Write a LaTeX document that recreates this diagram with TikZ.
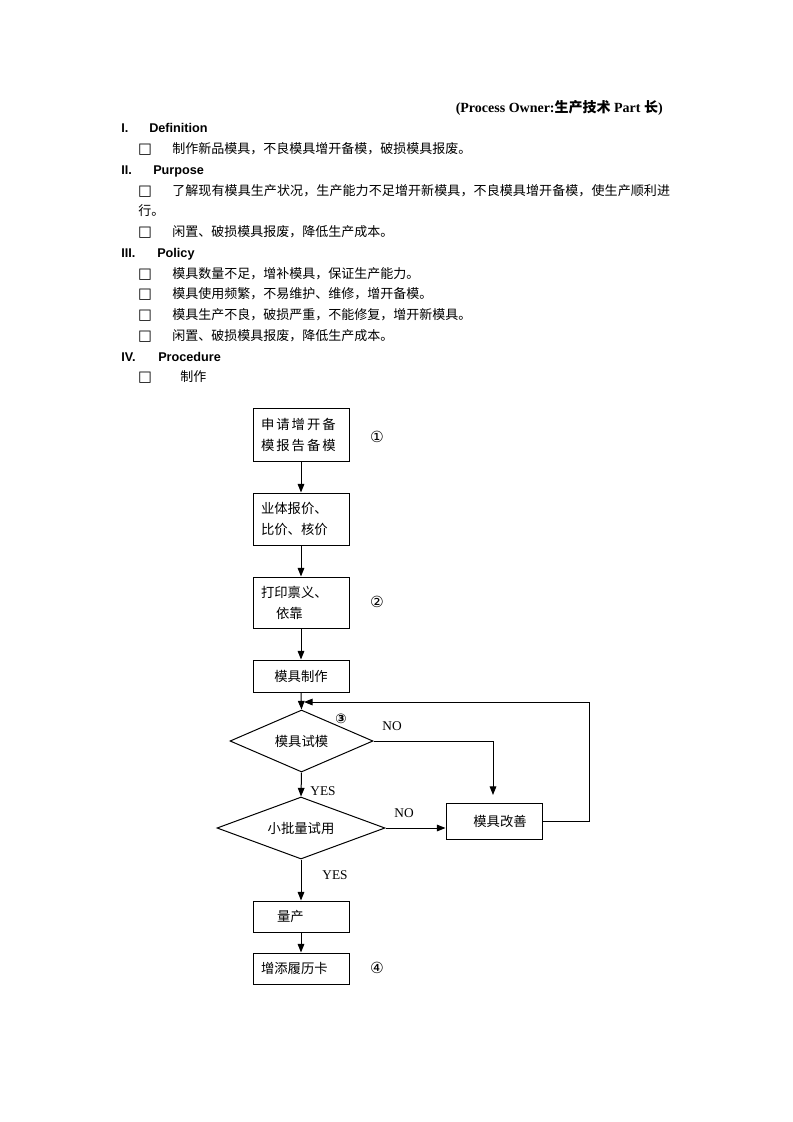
\documentclass[tikz,border=0pt]{standalone}
\usepackage{fontspec}
\setmainfont{Liberation Serif}
\newfontfamily\cjk{Noto Sans CJK SC}
\newfontfamily\cjkls{Noto Sans CJK SC}[LetterSpace=15]
\newfontfamily\cjkj{Noto Sans CJK SC}[LetterSpace=0.8]
\newfontfamily\arialf{Liberation Sans}
\newfontfamily\dejavu{DejaVu Sans}
\usetikzlibrary{shapes.geometric,arrows.meta}
\tikzset{
  box/.style={draw, line width=0.75pt, rectangle, minimum width=72pt, inner xsep=6pt, inner ysep=0pt,
    text width=60pt, align=left, font=\cjk\fontsize{10}{15.75}\selectfont},
  cbox/.style={box, align=center},
  dia/.style={draw, line width=0.75pt, diamond, aspect=2.5, inner sep=0pt, minimum height=46.5pt,
    font=\cjk\fontsize{10}{12}\selectfont},
  arr/.style={-{Triangle[length=6.5pt,width=5pt]}, line width=0.75pt},
  body/.style={anchor=west, inner sep=0pt, font=\cjk\fontsize{9.75}{12}\selectfont},
  bul/.style={anchor=center, inner sep=0pt, font=\dejavu\bfseries\fontsize{11}{12}\selectfont},
  head/.style={anchor=base west, inner sep=0pt, font=\arialf\bfseries\fontsize{9.5}{11}\selectfont},
  yn/.style={anchor=center, inner sep=0pt, font=\fontsize{10}{12}\selectfont},
  circ/.style={anchor=center, inner sep=0pt, font=\dejavu\fontsize{11.5}{13}\selectfont},
}
\begin{document}
\begin{tikzpicture}[x=0.75pt, y={(0,-0.75pt)}]
\useasboundingbox (0,0) rectangle (793,1122);
\fill[white] (0,0) rectangle (793,1122);

% header
\node[anchor=east, inner sep=0pt, font=\bfseries\fontsize{10.5}{12}\selectfont] (hdr) at (663,108)
  {(Process Owner:{\cjk\bfseries 生产技术} Part {\cjk\bfseries 长})};

% sections
\node[head] (r1) at (121,132) {I.};
\node[head] (h1) at (149,132) {Definition};
\node[bul] (u1) at (145,150) {□};
\node[body] (t1) at (172,149) {制作新品模具，不良模具增开备模，破损模具报废。};

\node[head] (r2) at (121,174) {II.};
\node[head] (h2) at (153,174) {Purpose};
\node[bul] (u2) at (145,192) {□};
\node[body, font=\cjkj\fontsize{9.75}{12}\selectfont] (t2) at (172,191) {了解现有模具生产状况，生产能力不足增开新模具，不良模具增开备模，使生产顺利进};
\node[body] (t2b) at (138,211) {行。};
\node[bul] (u3) at (145,233) {□};
\node[body] (t3) at (172,232) {闲置、破损模具报废，降低生产成本。};

\node[head] (r3) at (121,257) {III.};
\node[head] (h3) at (157,257) {Policy};
\node[bul] (u4) at (145,275) {□};
\node[body] (t4) at (172,274) {模具数量不足，增补模具，保证生产能力。};
\node[bul] (u5) at (145,295) {□};
\node[body] (t5) at (172,294) {模具使用频繁，不易维护、维修，增开备模。};
\node[bul] (u6) at (145,316) {□};
\node[body] (t6) at (172,315) {模具生产不良，破损严重，不能修复，增开新模具。};
\node[bul] (u7) at (145,337) {□};
\node[body] (t7) at (172,336) {闲置、破损模具报废，降低生产成本。};

\node[head] (r4) at (121,361) {IV.};
\node[head] (h4) at (158,361) {Procedure};
\node[bul] (u8) at (145,378) {□};
\node[body] (t8) at (180,377) {制作};

% flowchart
\node[box, minimum height=39.75pt] (b1) at (301,434.5) {\cjkls 申请增开备\\\cjkls 模报告备模};
\node[box, minimum height=39pt] (b2) at (301,519) {业体报价、\\比价、核价};
\node[box, minimum height=38.25pt] (b3) at (301,602.5) {打印禀义、\\\hspace*{11.25pt}依靠};
\node[cbox, minimum height=24pt] (b4) at (301,676) {模具制作};
\node[dia, minimum width=107.25pt] (d1) at (301.5,741) {模具试模};
\node[dia, minimum width=126pt] (d2) at (301,828) {小批量试用};
\node[cbox, minimum height=27pt] (b5) at (494,821) {\hspace*{9pt}模具改善};
\node[box, minimum height=23.25pt] (b6) at (301,916.5) {\hspace*{12pt}量产};
\node[box, minimum height=23.25pt] (b7) at (301,968.5) {增添履历卡};

\coordinate (noEnd) at (493,795);
\coordinate (loopA) at (589,821);
\coordinate (loopEnd) at (304,702);

\draw[arr] (b1.south) -- (b2.north);
\draw[arr] (b2.south) -- (b3.north);
\draw[arr] (b3.south) -- (b4.north);
\draw[arr] (b4.south) -- (d1.north);
\draw[arr] (d1.south) -- (d2.north);
\draw[arr] (d2.south) -- (b6.north);
\draw[arr] (b6.south) -- (b7.north);
\draw[arr] (d1.east) -| (noEnd);
\draw[arr] (d2.east) -- (d2.east -| b5.west);
\draw[arr] (b5.east) -- (loopA) |- (loopEnd);

% labels
\node[yn] (yes1) at (323,791) {YES};
\node[yn] (no1) at (392,726) {NO};
\node[yn] (no2) at (404,813) {NO};
\node[yn] (yes2) at (335,875) {YES};

\node[circ] (c1) at (377,437) {①};
\node[circ] (c2) at (377,602) {②};
\node[circ, font=\dejavu\bfseries\fontsize{10}{12}\selectfont] (c3) at (341,719) {③};
\node[circ] (c4) at (377,968) {④};
\end{tikzpicture}
\end{document}
